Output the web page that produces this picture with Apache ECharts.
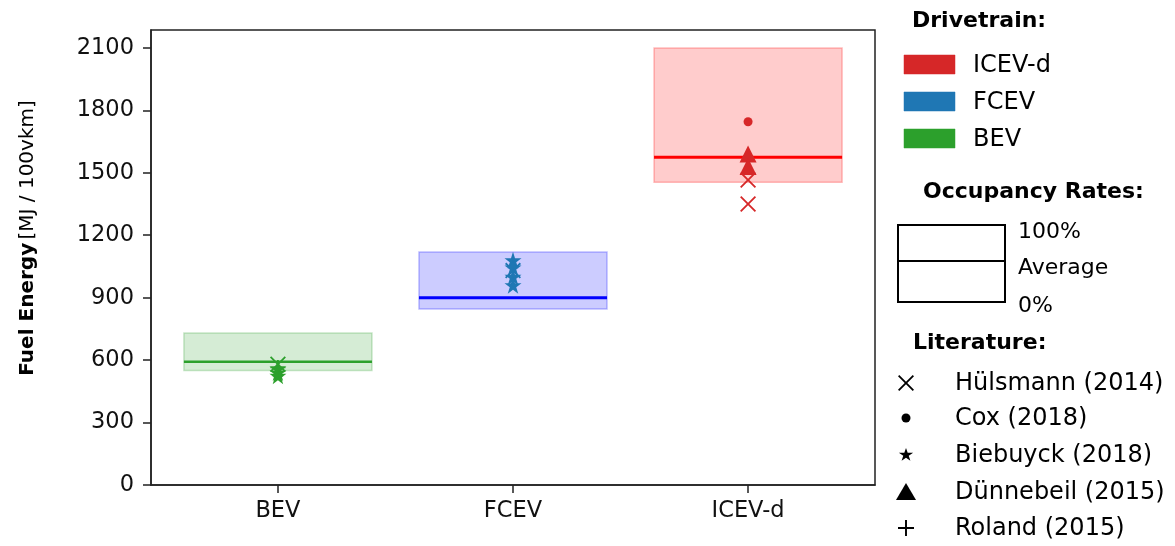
<!DOCTYPE html>
<html>
<head>
<meta charset="utf-8">
<script src="https://cdn.jsdelivr.net/npm/echarts@6/dist/echarts.min.js"></script>
<style>
  html, body { margin: 0; padding: 0; background: #fff; }
  #chart { width: 1175px; height: 546px; }
</style>
</head>
<body>
<div id="chart"></div>
<script>
// Drivetrains on the x axis
const categories = ['BEV', 'FCEV', 'ICEV-d'];
// Fuel energy range for occupancy 100% (low) .. 0% (high) and the average occupancy value
const occLow = [550, 845, 1455];
const occHigh = [730, 1120, 2100];
const occAvg = [592, 900, 1575];
const yTicks = [0, 300, 600, 900, 1200, 1500, 1800, 2100];

// Literature values: [drivetrain index, MJ / 100vkm]
const hulsmann = [[0, 580], [1, 1030], [2, 1465], [2, 1350]];
const cox = [[2, 1745]];
const biebuyck = [[0, 560], [0, 540], [0, 525], [1, 1080], [1, 1045], [1, 1000], [1, 960]];
const dunnebeil = [[2, 1590], [2, 1530]];
const roland = [[0, 565]];

const FONT = 'DejaVu Sans';
const markColors = ['#2ca02c', '#1f77b4', '#d62728'];
const boxFill = ['rgba(44,160,44,0.2)', 'rgba(0,0,255,0.2)', 'rgba(255,0,0,0.2)'];
const boxEdge = ['rgba(44,160,44,0.25)', 'rgba(0,0,255,0.25)', 'rgba(255,0,0,0.25)'];
const avgLine = ['#2ca02c', '#0000ff', '#ff0000'];

// Marker outlines in a unit square
const POLY_X = [[0,0.08],[0.08,0],[0.5,0.42],[0.92,0],[1,0.08],[0.58,0.5],[1,0.92],[0.92,1],[0.5,0.58],[0.08,1],[0,0.92],[0.42,0.5]];
const POLY_PLUS = [[0.44,0],[0.56,0],[0.56,0.44],[1,0.44],[1,0.56],[0.56,0.56],[0.56,1],[0.44,1],[0.44,0.56],[0,0.56],[0,0.44],[0.44,0.44]];
const POLY_STAR = [[0.5,0],[0.6123,0.3455],[0.9755,0.3455],[0.6817,0.559],[0.7939,0.9045],[0.5,0.691],[0.2061,0.9045],[0.3183,0.559],[0.0245,0.3455],[0.3877,0.3455]];
const toPath = poly => 'path://M' + poly.map(p => p[0] + ',' + p[1]).join(' L') + ' Z';
const SYM_X = toPath(POLY_X), SYM_PLUS = toPath(POLY_PLUS), SYM_STAR = toPath(POLY_STAR);

const boxData = categories.map((c, i) => [i, occLow[i], occHigh[i], occAvg[i]]);

function scatter(name, data, symbol, size) {
  return {
    name, type: 'scatter', data, symbol, symbolSize: size, z: 5,
    itemStyle: { color: p => markColors[p.value[0]], opacity: 1 },
    emphasis: { disabled: true }
  };
}

// Legend (right-hand side)
const els = [];
function txt(x, y, text, size, bold) {
  els.push({ type: 'text', x, y, style: {
    text, font: (bold ? 'bold ' : '') + size + 'px "' + FONT + '"', fill: '#000',
    align: 'left', verticalAlign: 'middle' } });
}
function polySym(poly, cx, cy, w, h) {
  els.push({ type: 'polygon', shape: { points: poly.map(p => [cx - w / 2 + p[0] * w, cy - h / 2 + p[1] * h]) }, style: { fill: '#000' } });
}
txt(912, 21, 'Drivetrain:', 22, true);
[['ICEV-d', '#d62728', 65], ['FCEV', '#1f77b4', 102], ['BEV', '#2ca02c', 139]].forEach(([t, c, y]) => {
  els.push({ type: 'rect', shape: { x: 904, y: y - 10, width: 51, height: 19 }, style: { fill: c, stroke: c, lineWidth: 0.5 } });
  txt(973, y + 1, t, 24, false);
});
txt(923, 192, 'Occupancy Rates:', 22, true);
els.push({ type: 'rect', shape: { x: 898, y: 225, width: 107, height: 77 }, style: { fill: 'none', stroke: '#000', lineWidth: 2 } });
els.push({ type: 'line', shape: { x1: 898, y1: 261, x2: 1005, y2: 261 }, style: { stroke: '#000', lineWidth: 2 } });
txt(1018, 232, '100%', 22, false);
txt(1018, 268, 'Average', 22, false);
txt(1018, 306, '0%', 22, false);
txt(913, 343, 'Literature:', 22, true);
const litRows = [
  ['Hülsmann (2014)', 383, cy => polySym(POLY_X, 906, cy, 16, 16)],
  ['Cox (2018)', 418, cy => els.push({ type: 'circle', shape: { cx: 906, cy, r: 4.5 }, style: { fill: '#000' } })],
  ['Biebuyck (2018)', 455, cy => polySym(POLY_STAR, 906, cy, 15, 14)],
  ['Dünnebeil (2015)', 492, cy => els.push({ type: 'polygon', shape: { points: [[906, cy - 9], [916, cy + 8], [896, cy + 8]] }, style: { fill: '#000' } })],
  ['Roland (2015)', 528, cy => polySym(POLY_PLUS, 906, cy, 16, 16)]
];
litRows.forEach(([t, y, drawSym]) => { drawSym(y); txt(955, y + 1, t, 24, false); });

// Y axis title with a bold lead
els.push({
  type: 'text', x: 28, y: 238, rotation: Math.PI / 2,
  style: {
    text: '{b|Fuel Energy} {r|[MJ / 100vkm]}', align: 'center', verticalAlign: 'middle',
    rich: {
      b: { font: 'bold 20px "' + FONT + '"', fill: '#000' },
      r: { font: '20px "' + FONT + '"', fill: '#000' }
    }
  }
});

const chart = echarts.init(document.getElementById('chart'), null, { renderer: 'canvas' });
chart.setOption({
  animation: false,
  backgroundColor: '#fff',
  grid: { left: 151, right: 300, top: 30, bottom: 61, show: true, borderColor: '#222', borderWidth: 1.5, containLabel: false },
  xAxis: {
    type: 'value', min: -0.54, max: 2.54,
    splitLine: { show: false },
    axisLine: { show: true, onZero: false, lineStyle: { color: '#222', width: 1.5 } },
    axisTick: { show: true, length: 8, customValues: [0, 1, 2], lineStyle: { color: '#222', width: 1.5 } },
    axisLabel: { customValues: [0, 1, 2], formatter: v => categories[Math.round(v)], margin: 15, fontFamily: FONT, fontSize: 22.5, color: '#111' }
  },
  yAxis: {
    type: 'value', min: 0, max: 2186,
    splitLine: { show: false },
    axisLine: { show: true, onZero: false, lineStyle: { color: '#222', width: 1.5 } },
    axisTick: { show: true, length: 8, customValues: yTicks, lineStyle: { color: '#222', width: 1.5 } },
    axisLabel: { customValues: yTicks, formatter: v => String(v), margin: 17, fontFamily: FONT, fontSize: 22.5, color: '#111' }
  },
  series: [
    {
      type: 'custom', name: 'Occupancy', data: boxData, z: 2,
      renderItem: (params, api) => {
        const i = api.value(0);
        const p0 = api.coord([i - 0.4, api.value(1)]);
        const p1 = api.coord([i + 0.4, api.value(2)]);
        const pa = api.coord([i, api.value(3)]);
        return {
          type: 'group', children: [
            { type: 'rect', shape: { x: p0[0], y: p1[1], width: p1[0] - p0[0], height: p0[1] - p1[1] },
              style: { fill: boxFill[i], stroke: boxEdge[i], lineWidth: 1.5 } },
            { type: 'line', shape: { x1: p0[0], y1: pa[1], x2: p1[0], y2: pa[1] },
              style: { stroke: avgLine[i], lineWidth: i === 0 ? 2.5 : 3 } }
          ]
        };
      }
    },
    scatter('Hülsmann (2014)', hulsmann, SYM_X, 16),
    scatter('Cox (2018)', cox, 'circle', 9),
    scatter('Biebuyck (2018)', biebuyck, SYM_STAR, 17),
    scatter('Dünnebeil (2015)', dunnebeil, 'triangle', 17),
    scatter('Roland (2015)', roland, SYM_PLUS, 15)
  ],
  graphic: { elements: els }
});
</script>
</body>
</html>
